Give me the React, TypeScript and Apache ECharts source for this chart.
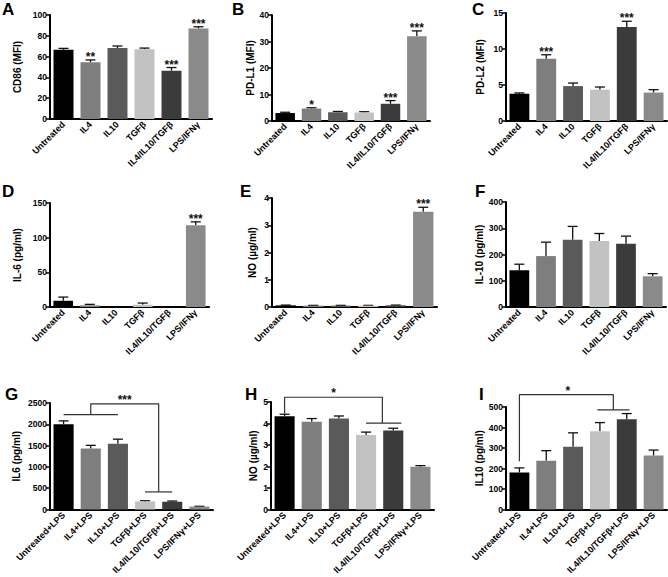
import React, { useEffect, useRef } from "react";
import * as echarts from "echarts";

const FONT = "Liberation Sans, Arial, Helvetica, sans-serif";

// ---------- data ----------
const topCats = ["Untreated", "IL4", "IL10", "TGFβ", "IL4/IL10/TGFβ", "LPS/IFNγ"];
const lpsCats = ["Untreated+LPS", "IL4+LPS", "IL10+LPS", "TGFβ+LPS", "IL4/IL10/TGFβ+LPS", "LPS/IFNγ+LPS"];

const cd86 = [66.5, 54.6, 68.2, 67.0, 46.4, 87.1];
const cd86Err = [1.4, 2.2, 2.0, 1.2, 3.1, 1.6];
const cd86Stars = ["", "**", "", "", "***", "***"];

const pdl1 = [3.0, 4.7, 3.3, 3.2, 6.5, 32.0];
const pdl1Err = [0.3, 0.3, 0.3, 0.3, 1.2, 2.0];
const pdl1Stars = ["", "*", "", "", "***", "***"];

const pdl2 = [3.8, 8.65, 4.85, 4.35, 13.05, 3.95];
const pdl2Err = [0.1, 0.55, 0.42, 0.37, 0.8, 0.4];
const pdl2Stars = ["", "***", "", "", "***", ""];

const il6 = [9, 2.4, 0, 3.3, 0, 118];
const il6Err = [5.3, 1.4, 0, 2.4, 0, 4.8];
const il6Stars = ["", "", "", "", "", "***"];

const no = [0.06, 0.05, 0.05, 0.05, 0.06, 3.5];
const noErr = [0.01, 0.01, 0.01, 0.01, 0.01, 0.16];
const noStars = ["", "", "", "", "", "***"];

const il10 = [140, 194, 256, 251, 241, 117];
const il10Err = [23, 53, 51, 29, 29, 10];
const il10Stars = ["", "", "", "", "", ""];

const il6Lps = [2003, 1430, 1544, 191, 183, 69];
const il6LpsErr = [77, 76, 107, 15, 16, 7];
const noLps = [4.34, 4.08, 4.23, 3.47, 3.67, 1.99];
const noLpsErr = [0.09, 0.15, 0.12, 0.13, 0.11, 0.05];
const il10Lps = [181, 238, 306, 382, 440, 263];
const il10LpsErr = [22, 49, 68, 42, 28, 27];
const noStarsAll = ["", "", "", "", "", ""];

// significance brackets (category index, value)
const bracketsG = [
  [[1, 2225], [1, 2480], [3.5, 2480], [3.5, 413]],
  [[0, 2225], [2, 2225]],
  [[3, 413], [4, 413]],
];
const bracketsH = [
  [[0, 4.45], [0, 5.22], [3.6, 5.22], [3.6, 4.02]],
  [[3, 4.02], [4.3, 4.02]],
];
const bracketsI = [
  [[0, 235], [0, 560], [3.5, 560], [3.5, 486]],
  [[2.9, 486], [4.1, 486]],
];
const bracketStarsG = [[2.25, 2480, "***"]];
const bracketStarsH = [[1.8, 5.22, "*"]];
const bracketStarsI = [[1.8, 560, "*"]];

const barColors = ["#000000", "#7e7e7e", "#5a5a5a", "#c2c2c2", "#3b3b3b", "#8a8a8a"];

const panels = [
  { letter: "A", name: "CD86 (MFI)", cats: topCats, vals: cd86, errs: cd86Err, stars: cd86Stars, max: 100, interval: 20, brackets: [], bstars: [] },
  { letter: "B", name: "PD-L1 (MFI)", cats: topCats, vals: pdl1, errs: pdl1Err, stars: pdl1Stars, max: 40, interval: 10, brackets: [], bstars: [] },
  { letter: "C", name: "PD-L2 (MFI)", cats: topCats, vals: pdl2, errs: pdl2Err, stars: pdl2Stars, max: 15, interval: 5, brackets: [], bstars: [] },
  { letter: "D", name: "IL-6 (pg/ml)", cats: topCats, vals: il6, errs: il6Err, stars: il6Stars, max: 150, interval: 50, brackets: [], bstars: [] },
  { letter: "E", name: "NO (µg/ml)", cats: topCats, vals: no, errs: noErr, stars: noStars, max: 4, interval: 1, brackets: [], bstars: [] },
  { letter: "F", name: "IL-10 (pg/ml)", cats: topCats, vals: il10, errs: il10Err, stars: il10Stars, max: 400, interval: 100, brackets: [], bstars: [] },
  { letter: "G", name: "IL6 (pg/ml)", cats: lpsCats, vals: il6Lps, errs: il6LpsErr, stars: noStarsAll, max: 2500, interval: 500, brackets: bracketsG, bstars: bracketStarsG },
  { letter: "H", name: "NO (µg/ml)", cats: lpsCats, vals: noLps, errs: noLpsErr, stars: noStarsAll, max: 5, interval: 1, brackets: bracketsH, bstars: bracketStarsH },
  { letter: "I", name: "IL10 (pg/ml)", cats: lpsCats, vals: il10Lps, errs: il10LpsErr, stars: noStarsAll, max: 500, interval: 100, brackets: bracketsI, bstars: bracketStarsI },
];

// ---------- layout ----------
const layout = [
  { left: 50, top: 15, width: 162, height: 104, gap: 28, lx: 2, ly: 3 },
  { left: 272, top: 15, width: 158, height: 106, gap: 15, lx: 232, ly: 3 },
  { left: 506, top: 13, width: 161, height: 108, gap: 21, lx: 472, ly: 3 },
  { left: 50, top: 203, width: 159, height: 104, gap: 28, lx: 2, ly: 185 },
  { left: 272, top: 198, width: 165, height: 109, gap: 15, lx: 240, ly: 185 },
  { left: 506, top: 202, width: 160, height: 105, gap: 20, lx: 475, ly: 185 },
  { left: 50, top: 403, width: 163, height: 109, gap: 29, lx: 5, ly: 388 },
  { left: 271, top: 402, width: 163, height: 111, gap: 13, lx: 245, ly: 388 },
  { left: 506, top: 407, width: 161, height: 105, gap: 20, lx: 479, ly: 388 },
];

function buildOption() {
  const grid: any[] = [];
  const xAxis: any[] = [];
  const yAxis: any[] = [];
  const series: any[] = [];
  const graphics: any[] = [];

  panels.forEach((p, i) => {
    const l = layout[i];
    grid.push({ left: l.left, top: l.top, width: l.width, height: l.height });
    xAxis.push({
      type: "category",
      gridIndex: i,
      data: p.cats,
      axisLine: { onZero: false, lineStyle: { color: "#000", width: 2 } },
      axisTick: { alignWithLabel: true, length: 4, lineStyle: { color: "#000", width: 1.5 } },
      axisLabel: { rotate: 45, interval: 0, fontSize: 9, fontWeight: "bold", color: "#000", margin: 4, fontFamily: FONT },
      splitLine: { show: false },
    });
    xAxis.push({ type: "value", gridIndex: i, min: -0.5, max: 5.5, show: false, splitLine: { show: false } });
    yAxis.push({
      type: "value",
      gridIndex: i,
      min: 0,
      max: p.max,
      interval: p.interval,
      name: p.name,
      nameLocation: "middle",
      nameGap: l.gap,
      nameTextStyle: { fontSize: 10, fontWeight: "bold", color: "#000", fontFamily: FONT },
      axisLine: { show: true, onZero: false, lineStyle: { color: "#000", width: 2 } },
      axisTick: { show: true, length: 4, lineStyle: { color: "#000", width: 1.5 } },
      axisLabel: {
        fontSize: 8.5,
        fontWeight: "bold",
        color: "#000",
        margin: 3,
        fontFamily: FONT,
        formatter: (v: number) => String(v),
      },
      splitLine: { show: false },
    });

    series.push({
      type: "bar",
      xAxisIndex: 2 * i,
      yAxisIndex: i,
      barWidth: "74%",
      data: p.vals.map((v, j) => ({ value: v, itemStyle: { color: barColors[j] } })),
      silent: true,
    });

    const stars = p.stars;
    series.push({
      type: "custom",
      xAxisIndex: 2 * i + 1,
      yAxisIndex: i,
      silent: true,
      clip: false,
      data: p.vals.map((v, j) => [j, v, p.errs[j]]),
      renderItem: (params: any, api: any) => {
        const j = api.value(0);
        const v = api.value(1);
        const e = api.value(2);
        const base = api.coord([j, v]);
        const top = api.coord([j, v + e]);
        const children: any[] = [];
        if (e > 0) {
          children.push({
            type: "line",
            shape: { x1: base[0], y1: base[1], x2: top[0], y2: top[1] },
            style: { stroke: "#111", lineWidth: 1.3 },
          });
          children.push({
            type: "line",
            shape: { x1: top[0] - 5, y1: top[1], x2: top[0] + 5, y2: top[1] },
            style: { stroke: "#111", lineWidth: 1.3 },
          });
        }
        const s = stars[params.dataIndex];
        if (s) {
          children.push({
            type: "text",
            style: {
              text: s,
              x: top[0],
              y: top[1] + 3,
              textAlign: "center",
              textVerticalAlign: "bottom",
              font: `bold 12px ${FONT}`,
              fill: "#111",
            },
          });
        }
        return { type: "group", children };
      },
    });

    p.brackets.forEach((b: any) => {
      series.push({
        type: "line",
        xAxisIndex: 2 * i + 1,
        yAxisIndex: i,
        data: b,
        symbol: "none",
        silent: true,
        clip: false,
        lineStyle: { color: "#333", width: 1.2 },
      });
    });
    if (p.bstars.length) {
      series.push({
        type: "custom",
        xAxisIndex: 2 * i + 1,
        yAxisIndex: i,
        silent: true,
        clip: false,
        data: p.bstars.map((b: any) => [b[0], b[1]]),
        renderItem: (params: any, api: any) => {
          const pt = api.coord([api.value(0), api.value(1)]);
          return {
            type: "text",
            style: {
              text: (p.bstars[params.dataIndex] as any)[2],
              x: pt[0],
              y: pt[1] + 2,
              textAlign: "center",
              textVerticalAlign: "bottom",
              font: `bold 12px ${FONT}`,
              fill: "#111",
            },
          };
        },
      });
    }

    graphics.push({
      type: "text",
      left: l.lx,
      top: l.ly - 2,
      style: { text: p.letter, font: `bold 17px ${FONT}`, fill: "#000" },
    });
  });

  return {
    animation: false,
    backgroundColor: "#fff",
    textStyle: { fontFamily: FONT },
    grid,
    xAxis,
    yAxis,
    series,
    graphic: graphics,
  };
}

export default function App() {
  const ref = useRef<HTMLDivElement>(null);
  useEffect(() => {
    if (!ref.current) return;
    const chart = echarts.init(ref.current, undefined, { renderer: "svg" });
    chart.setOption(buildOption());
    return () => chart.dispose();
  }, []);
  return (
    <div
      ref={ref}
      style={{ position: "fixed", left: 0, top: 0, width: 668, height: 577, background: "#fff" }}
    />
  );
}
